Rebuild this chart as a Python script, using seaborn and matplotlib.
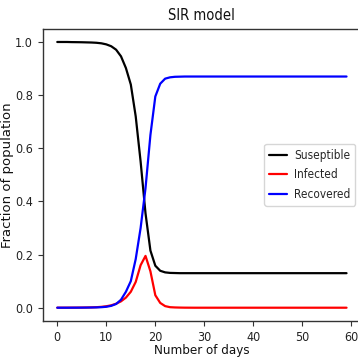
import matplotlib
matplotlib.use("Agg")
import matplotlib.pyplot as plt
import seaborn as sns

days = list(range(60))

susceptible = [
    1.0, 1.0, 1.0, 0.9995, 0.9993, 0.999, 0.9985, 0.998, 0.997, 0.995,
    0.991, 0.984, 0.971, 0.946, 0.902, 0.84, 0.72, 0.55, 0.355, 0.215,
    0.158, 0.139, 0.133, 0.131, 0.1305, 0.13, 0.13, 0.13, 0.13, 0.13,
    0.13, 0.13, 0.13, 0.13, 0.13, 0.13, 0.13, 0.13, 0.13, 0.13,
    0.13, 0.13, 0.13, 0.13, 0.13, 0.13, 0.13, 0.13, 0.13, 0.13,
    0.13, 0.13, 0.13, 0.13, 0.13, 0.13, 0.13, 0.13, 0.13, 0.13,
]

infected = [
    0.0001, 0.0001, 0.0002, 0.0003, 0.0004, 0.0006, 0.0009, 0.0013, 0.002, 0.0033,
    0.0055, 0.009, 0.015, 0.024, 0.038, 0.06, 0.097, 0.16, 0.195, 0.137,
    0.047, 0.018, 0.006, 0.002, 0.001, 0.0005, 0.0002, 0.0001, 0.0, 0.0,
    0.0, 0.0, 0.0, 0.0, 0.0, 0.0, 0.0, 0.0, 0.0, 0.0,
    0.0, 0.0, 0.0, 0.0, 0.0, 0.0, 0.0, 0.0, 0.0, 0.0,
    0.0, 0.0, 0.0, 0.0, 0.0, 0.0, 0.0, 0.0, 0.0, 0.0,
]

recovered = [
    0.0, 0.0, 0.0, 0.0001, 0.0002, 0.0003, 0.0005, 0.0008, 0.0012, 0.002,
    0.0035, 0.007, 0.014, 0.03, 0.06, 0.1, 0.183, 0.3, 0.45, 0.65,
    0.795, 0.843, 0.862, 0.867, 0.869, 0.8695, 0.87, 0.87, 0.87, 0.87,
    0.87, 0.87, 0.87, 0.87, 0.87, 0.87, 0.87, 0.87, 0.87, 0.87,
    0.87, 0.87, 0.87, 0.87, 0.87, 0.87, 0.87, 0.87, 0.87, 0.87,
    0.87, 0.87, 0.87, 0.87, 0.87, 0.87, 0.87, 0.87, 0.87, 0.87,
]

series_labels = ["Suseptible", "Infected", "Recovered"]
series_colors = ["black", "red", "blue"]

sns.set_style("white")
plt.rcParams["font.family"] = ["DejaVu Sans"]
plt.rcParams["font.stretch"] = "condensed"
plt.rcParams["axes.edgecolor"] = "#333333"
plt.rcParams["axes.linewidth"] = 1.0
plt.rcParams["xtick.bottom"] = True
plt.rcParams["ytick.left"] = True
plt.rcParams["xtick.color"] = "#333333"
plt.rcParams["ytick.color"] = "#333333"
plt.rcParams["xtick.labelcolor"] = "#222222"
plt.rcParams["ytick.labelcolor"] = "#222222"
plt.rcParams["xtick.major.size"] = 3.5
plt.rcParams["ytick.major.size"] = 3.5

fig = plt.figure(figsize=(3.58, 3.62), dpi=100)
ax = fig.add_axes([42.8 / 358, 41 / 362, 318.2 / 358, 292.3 / 362])

for vals, lab, col in zip([susceptible, infected, recovered], series_labels, series_colors):
    sns.lineplot(x=days, y=vals, color=col, label=lab, linewidth=1.6, ax=ax)

ax.set_xticks([0, 10, 20, 30, 40, 50, 60])
ax.set_yticks([0.0, 0.2, 0.4, 0.6, 0.8, 1.0])
ax.set_yticklabels(["0.0", "0.2", "0.4", "0.6", "0.8", "1.0"])
ax.tick_params(labelsize=9)

ax.set_title("SIR model", fontsize=10.5, color="#111111", pad=6)
ax.set_xlabel("Number of days", fontsize=9.5, color="#111111", labelpad=0.5)
ax.set_ylabel("Fraction of population", fontsize=9.5, color="#111111",
              fontstretch="normal")
ax.yaxis.set_label_coords(-0.09, 0.5)

leg = ax.legend(loc="center right", fontsize=8.5, handlelength=1.5,
                handletextpad=0.6, labelspacing=0.55,
                frameon=True, framealpha=0.8, edgecolor="#cccccc",
                borderaxespad=0.5)

fig.savefig("out.png", dpi=100)
